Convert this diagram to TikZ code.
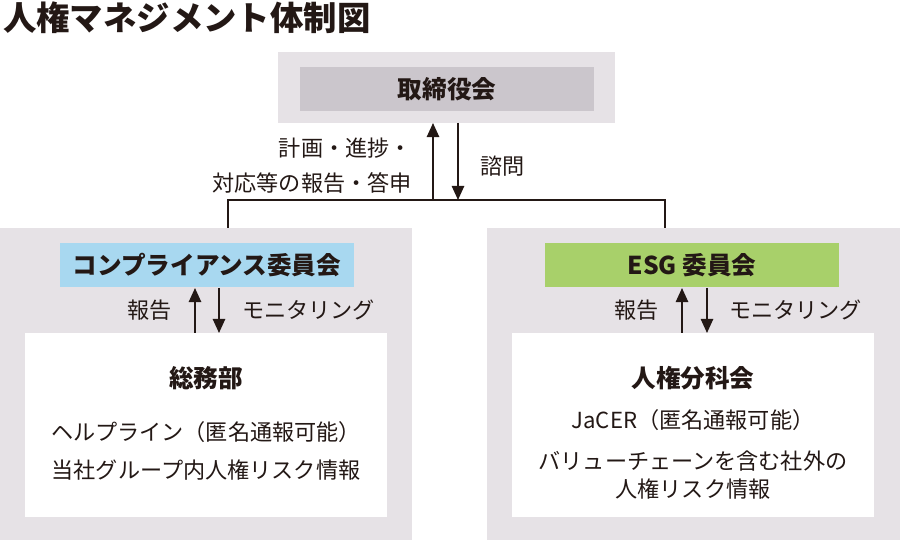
\documentclass[tikz,border=0pt]{standalone}
\usepackage{fontspec}
\setmainfont{Noto Sans CJK JP}
\usetikzlibrary{positioning,calc,arrows.meta}
\definecolor{panelgray}{HTML}{E6E2E6}
\definecolor{boardgray}{HTML}{CBC6CC}
\definecolor{compblue}{HTML}{A8D8F0}
\definecolor{esggreen}{HTML}{A8D06A}
\definecolor{inktext}{HTML}{231815}

\begin{document}
\begin{tikzpicture}[x=0.02cm,y=-0.02cm,
panel/.style={fill=panelgray,draw=none},
labelbox/.style={draw=none,minimum width=5.9cm,minimum height=0.88cm,font=\fontsize{14}{16}\selectfont\bfseries,text=inktext},
body/.style={font=\fontsize{12.6}{16}\selectfont,text=inktext,align=center},
edge/.style={-{Triangle[length=8pt,width=7pt]},line width=1pt,color=inktext}]

\useasboundingbox (0,0) rectangle (900,540);

% title
\node[anchor=west,font=\fontsize{19}{21}\selectfont\bfseries,text=inktext] (title) at (-3,18) {人権マネジメント体制図};

% board
\fill[panel] (278,52) rectangle (615,123);
\node[labelbox,fill=boardgray] (board) at (447,89) {取締役会};

% panels
\fill[panel] (0,228) rectangle (412,540);
\fill[panel] (487,228) rectangle (900,540);
\node[labelbox,fill=compblue] (comp) at (207,265) {コンプライアンス委員会};
\node[labelbox,fill=esggreen] (esg) at (692,265) {ESG 委員会};

% white boxes
\node[fill=white,minimum width=7.24cm,minimum height=3.7cm] (soumu) at (206,425) {};
\node[fill=white,minimum width=7.26cm,minimum height=3.7cm] (bunka) at (693,425) {};

% connectors
\coordinate (jl) at (228,200);
\coordinate (jr) at (665,200);
\coordinate (ja) at (433,200);
\coordinate (jb) at (458,200);
\coordinate (bu) at (433,123);
\coordinate (bd) at (458,123);
\draw[line width=0.8pt,color=inktext] (228,228) -- (jl) -- (jr) -- (665,228);
\draw[edge] (ja) -- (bu);
\draw[edge] (bd) -- (jb);
\draw[edge] (195,333) -- (195,288);
\draw[edge] (219,288) -- (219,333);
\draw[edge] (682,333) -- (682,288);
\draw[edge] (707,288) -- (707,333);

% arrow labels
\node[body,anchor=east] (plan) at (418,148) {計画・進捗・};
\node[body,anchor=east] (report) at (418,183) {対応等の報告・答申};
\node[body,anchor=west] (consult) at (474,166) {諮問};
\node[body,anchor=east] (repl) at (178,310) {報告};
\node[body,anchor=west] (monl) at (236,310) {モニタリング};
\node[body,anchor=east] (repr) at (665,310) {報告};
\node[body,anchor=west] (monr) at (723,310) {モニタリング};

% left box texts
\node[body,font=\fontsize{14}{16}\selectfont\bfseries] (soumut) at (206,378) {総務部};
\node[body] (help) at (206,432) {ヘルプライン（匿名通報可能）};
\node[body] (group) at (206,470) {当社グループ内人権リスク情報};

% right box texts
\node[body,font=\fontsize{14}{16}\selectfont\bfseries] (bunkat) at (693,378) {人権分科会};
\node[body] (jacer) at (693,420) {JaCER（匿名通報可能）};
\node[body] (chain) at (693,475) {バリューチェーンを含む社外の\\人権リスク情報};
\end{tikzpicture}
\end{document}
